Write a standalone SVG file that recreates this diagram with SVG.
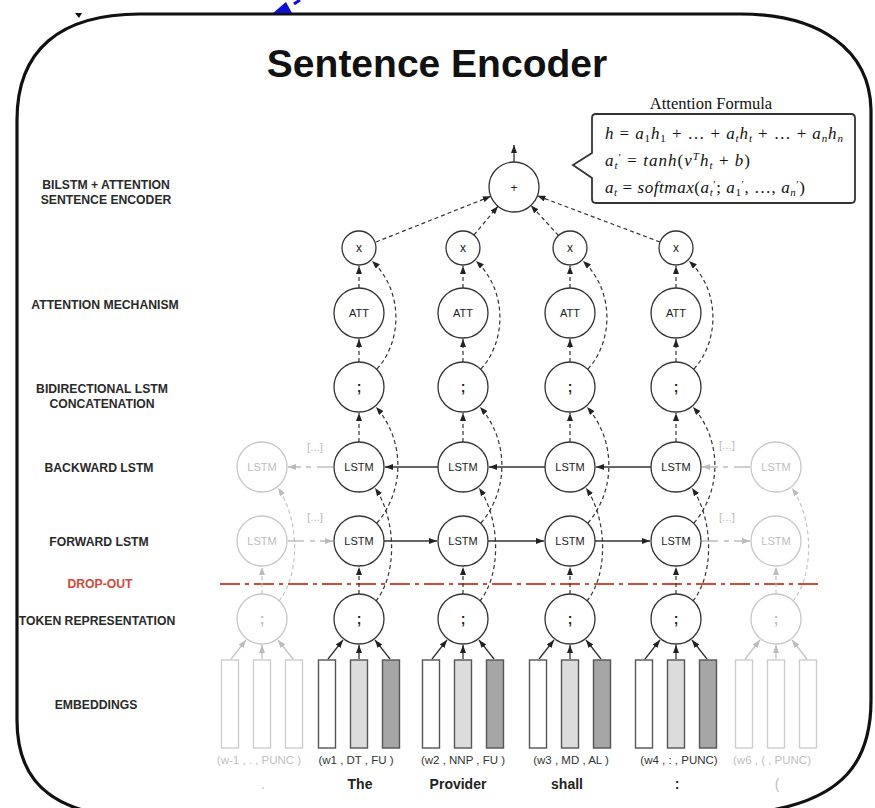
<svg xmlns="http://www.w3.org/2000/svg" width="875" height="808" viewBox="0 0 875 808">
  <defs>
    <style>
      .frame { fill: none; stroke: #111; stroke-width: 3.2; }
      .title { font-family: "Liberation Sans", Arial, sans-serif; font-weight: bold; font-size: 39px; text-anchor: middle; fill: #111; }
      .lbl { font-family: "Liberation Sans", Arial, sans-serif; font-weight: bold; font-size: 12.2px; text-anchor: middle; fill: #2a2a2a; }
      .drop { fill: #d24a3a; }
      .n circle { fill: #fff; stroke: #333; stroke-width: 1.3; }
      .f circle { fill: #fff; stroke: #c8c8c8; stroke-width: 1.3; }
      .n text, .f text { font-family: "Liberation Sans", Arial, sans-serif; font-size: 11px; text-anchor: middle; }
      .n text { fill: #222; }
      .f text { fill: #bdbdbd; }
      .sym { font-size: 14px !important; font-weight: bold; }
      .bar rect { stroke: #555; stroke-width: 1.4; }
      .fbar rect { fill: #fff; stroke: #cdcdcd; stroke-width: 1.4; }
      .w0 { fill: #fff; }
      .w1 { fill: #dcdcdc; }
      .w2 { fill: #a6a6a6; }
      .dsh { fill: none; stroke: #333; stroke-width: 1.2; stroke-dasharray: 4 3; marker-end: url(#ah); }
      .sol { fill: none; stroke: #333; stroke-width: 1.3; marker-end: url(#ah); }
      .gd { fill: none; stroke: #c4c4c4; stroke-width: 1.2; stroke-dasharray: 4 3; marker-end: url(#ahg); }
      .gs { fill: none; stroke: #c4c4c4; stroke-width: 1.3; marker-end: url(#ahg); }
      .gdd { fill: none; stroke: #bdbdbd; stroke-width: 1.3; stroke-dasharray: 16 6 5 5; marker-end: url(#ahg); }
      .dropline { stroke: #d24a3a; stroke-width: 2.2; stroke-dasharray: 20 5 4 5; fill: none; }
      .fm { font-family: "Liberation Serif", "Times New Roman", serif; font-size: 17px; fill: #111; }
      .i { font-style: italic; }
      .sb { font-size: 11px; }
      .hd { font-family: "Liberation Serif", "Times New Roman", serif; font-size: 16.5px; text-anchor: middle; fill: #111; }
      .tup { font-family: "Liberation Sans", Arial, sans-serif; font-size: 11.5px; text-anchor: middle; fill: #333; }
      .tupf { font-family: "Liberation Sans", Arial, sans-serif; font-size: 11.5px; text-anchor: middle; fill: #c0c0c0; }
      .word { font-family: "Liberation Sans", Arial, sans-serif; font-weight: bold; font-size: 14px; text-anchor: middle; fill: #222; }
      .wordf { font-family: "Liberation Sans", Arial, sans-serif; font-size: 14px; text-anchor: middle; fill: #bbb; }
      .etc { font-family: "Liberation Sans", Arial, sans-serif; font-size: 11.5px; text-anchor: middle; fill: #bdbdbd; }
    </style>
    <marker id="ah" viewBox="0 0 8 6" refX="8" refY="3" markerWidth="8" markerHeight="6" markerUnits="userSpaceOnUse" orient="auto">
      <path d="M0,0 L8,3 L0,6 z" fill="#222"/>
    </marker>
    <marker id="ahg" viewBox="0 0 8 6" refX="8" refY="3" markerWidth="8" markerHeight="6" markerUnits="userSpaceOnUse" orient="auto">
      <path d="M0,0 L8,3 L0,6 z" fill="#bbb"/>
    </marker>
  </defs>

  <rect x="0" y="0" width="875" height="808" fill="#fff"/>

  <!-- outer rounded frame (bottom edge runs below the canvas) -->
  <path class="frame" d="M140,14 H740 C820,14 870,50 871,110 V700 C871,760 845,800 760,812 H90 C40,800 17,770 17,720 V120 C17,50 60,14 140,14 Z"/>
  <!-- small marks along the top edge -->
  <path d="M75,13 L82,13 L79,18 z" fill="#111"/>
  <path d="M273,13 L292,13 L286,2 z" fill="#1010d0"/>
  <path d="M294,4 L300,0" stroke="#1010d0" stroke-width="3"/>

  <text class="title" x="437" y="77">Sentence Encoder</text>

  <!-- attention formula callout -->
  <g id="formula">
    <text class="hd" x="711" y="109">Attention Formula</text>
    <path d="M596,114 H851 Q855,114 855,118 V199 Q855,203 851,203 H596 Q592,203 592,199 V178 L573,165 L592,153 V118 Q592,114 596,114 Z" fill="#fff" stroke="#333" stroke-width="1.8"/>
    <text class="fm" x="605" y="139" textLength="238" lengthAdjust="spacing"><tspan class="i">h</tspan> = <tspan class="i">a</tspan><tspan class="sb" dy="3">1</tspan><tspan class="i" dy="-3">h</tspan><tspan class="sb" dy="3">1</tspan><tspan dy="-3"> + … + </tspan><tspan class="i">a</tspan><tspan class="sb i" dy="3">t</tspan><tspan class="i" dy="-3">h</tspan><tspan class="sb i" dy="3">t</tspan><tspan dy="-3"> + … + </tspan><tspan class="i">a</tspan><tspan class="sb i" dy="3">n</tspan><tspan class="i" dy="-3">h</tspan><tspan class="sb i" dy="3">n</tspan></text>
    <text class="fm" x="605" y="166" textLength="145" lengthAdjust="spacing"><tspan class="i">a</tspan><tspan class="sb i" dy="3">t</tspan><tspan class="sb" dy="-8">′</tspan><tspan dy="5"> = </tspan><tspan class="i">tanh</tspan>(<tspan class="i">v</tspan><tspan class="sb i" dy="-6">T</tspan><tspan class="i" dy="6">h</tspan><tspan class="sb i" dy="3">t</tspan><tspan dy="-3"> + </tspan><tspan class="i">b</tspan>)</text>
    <text class="fm" x="605" y="193" textLength="200" lengthAdjust="spacing"><tspan class="i">a</tspan><tspan class="sb i" dy="3">t</tspan><tspan dy="-3"> = </tspan><tspan class="i">softmax</tspan>(<tspan class="i">a</tspan><tspan class="sb i" dy="3">t</tspan><tspan class="sb" dy="-8">′</tspan><tspan dy="5">; </tspan><tspan class="i">a</tspan><tspan class="sb" dy="3">1</tspan><tspan class="sb" dy="-8">′</tspan><tspan dy="5">, …, </tspan><tspan class="i">a</tspan><tspan class="sb i" dy="3">n</tspan><tspan class="sb" dy="-8">′</tspan><tspan dy="5">)</tspan></text>
  </g>

  <!-- layer labels -->
  <g id="labels">
    <text class="lbl" x="106" y="189">BILSTM + ATTENTION</text>
    <text class="lbl" x="106" y="204">SENTENCE ENCODER</text>
    <text class="lbl" x="105" y="309">ATTENTION MECHANISM</text>
    <text class="lbl" x="102" y="393">BIDIRECTIONAL LSTM</text>
    <text class="lbl" x="102" y="408">CONCATENATION</text>
    <text class="lbl" x="99" y="472">BACKWARD LSTM</text>
    <text class="lbl" x="99" y="546">FORWARD LSTM</text>
    <text class="lbl drop" x="100" y="588">DROP-OUT</text>
    <text class="lbl" x="97" y="625">TOKEN REPRESENTATION</text>
    <text class="lbl" x="96" y="709">EMBEDDINGS</text>
  </g>

  <!-- drop-out line -->
  <path class="dropline" d="M220,584 H818"/>

  <!-- connectors -->
  <g id="connectors">
    <!-- output of the sum -->
    <path class="sol" d="M514,162 V145"/>
    <!-- weighted states into the sum -->
    <path class="dsh" d="M376,242 L490.8,196.3"/>
    <path class="dsh" d="M474,235 L498,206.2"/>
    <path class="dsh" d="M558.5,235.5 L530.9,205.4"/>
    <path class="dsh" d="M660,242 L537.4,195.8"/>

    <!-- column 1 -->
    <path class="dsh" d="M359,288 V266"/>
    <path class="dsh" d="M359,362 V339"/>
    <path class="dsh" d="M359,442 V413"/>
    <path class="dsh" d="M359,594 V567"/>
    <path class="dsh" d="M377,369 C403,340 403,290 372,261"/>
    <path class="dsh" d="M377,523 C405,490 405,440 376,407"/>
    <path class="dsh" d="M376,601 C397,575 397,520 375,488"/>
    <path class="sol" d="M328,659 L343,640"/>
    <path class="sol" d="M359,659 V645"/>
    <path class="sol" d="M390,659 L375,640"/>

    <!-- column 2 -->
    <path class="dsh" d="M463,288 V266"/>
    <path class="dsh" d="M463,362 V339"/>
    <path class="dsh" d="M463,442 V413"/>
    <path class="dsh" d="M463,594 V567"/>
    <path class="dsh" d="M481,369 C507,340 507,290 476,261"/>
    <path class="dsh" d="M481,523 C509,490 509,440 480,407"/>
    <path class="dsh" d="M480,601 C501,575 501,520 479,488"/>
    <path class="sol" d="M432,659 L447,640"/>
    <path class="sol" d="M463,659 V645"/>
    <path class="sol" d="M494,659 L479,640"/>

    <!-- column 3 -->
    <path class="dsh" d="M570,288 V266"/>
    <path class="dsh" d="M570,362 V339"/>
    <path class="dsh" d="M570,442 V413"/>
    <path class="dsh" d="M570,594 V567"/>
    <path class="dsh" d="M588,369 C614,340 614,290 583,261"/>
    <path class="dsh" d="M588,523 C616,490 616,440 587,407"/>
    <path class="dsh" d="M587,601 C608,575 608,520 586,488"/>
    <path class="sol" d="M539,659 L554,640"/>
    <path class="sol" d="M570,659 V645"/>
    <path class="sol" d="M601,659 L586,640"/>

    <!-- column 4 -->
    <path class="dsh" d="M676,288 V266"/>
    <path class="dsh" d="M676,362 V339"/>
    <path class="dsh" d="M676,442 V413"/>
    <path class="dsh" d="M676,594 V567"/>
    <path class="dsh" d="M694,369 C720,340 720,290 689,261"/>
    <path class="dsh" d="M694,523 C722,490 722,440 693,407"/>
    <path class="dsh" d="M693,601 C714,575 714,520 692,488"/>
    <path class="sol" d="M645,659 L660,640"/>
    <path class="sol" d="M676,659 V645"/>
    <path class="sol" d="M707,659 L692,640"/>

    <!-- faded left column -->
    <path class="gd" d="M262,594 V567"/>
    <path class="gd" d="M279,601 C300,575 300,520 278,488"/>
    <path class="gs" d="M231,659 L246,640"/>
    <path class="gs" d="M262,659 V645"/>
    <path class="gs" d="M293,659 L278,640"/>

    <!-- faded right column -->
    <path class="gd" d="M776,594 V567"/>
    <path class="gd" d="M793,601 C814,575 814,520 792,488"/>
    <path class="gs" d="M745,659 L760,640"/>
    <path class="gs" d="M776,659 V645"/>
    <path class="gs" d="M807,659 L792,640"/>

    <!-- forward chain -->
    <path class="gdd" d="M288,541 H333"/>
    <path class="sol" d="M384,541 H437"/>
    <path class="sol" d="M488,541 H544"/>
    <path class="sol" d="M595,541 H650"/>
    <path class="gdd" d="M702,541 H750"/>

    <!-- backward chain -->
    <path class="gdd" d="M750,467 H702"/>
    <path class="sol" d="M651,467 H596"/>
    <path class="sol" d="M545,467 H489"/>
    <path class="sol" d="M438,467 H385"/>
    <path class="gdd" d="M333,467 H288"/>

    <text class="etc" x="315" y="451">[...]</text>
    <text class="etc" x="315" y="521">[...]</text>
    <text class="etc" x="727" y="449">[...]</text>
    <text class="etc" x="727" y="521">[...]</text>
  </g>

  <!-- sentence vector -->
  <g id="sum" class="n"><circle cx="514" cy="187" r="25"/><text x="514" y="191.5" style="font-size:12px">+</text></g>

  <!-- column 1 : The -->
  <g id="mul1" class="n"><circle cx="359" cy="248" r="17"/><text x="359" y="252" style="font-size:12px">x</text></g>
  <g id="att1" class="n"><circle cx="359" cy="313" r="25"/><text x="359" y="317">ATT</text></g>
  <g id="cat1" class="n"><circle cx="359" cy="387" r="25"/><text class="sym" x="359" y="392">;</text></g>
  <g id="bwd1" class="n"><circle cx="359" cy="467" r="25"/><text x="359" y="471">LSTM</text></g>
  <g id="fwd1" class="n"><circle cx="359" cy="541" r="25"/><text x="359" y="545">LSTM</text></g>
  <g id="tok1" class="n"><circle cx="359" cy="619" r="25"/><text class="sym" x="359" y="624">;</text></g>
  <g id="emb1" class="bar"><rect class="w0" x="318.5" y="660" width="17" height="88"/><rect class="w1" x="350.5" y="660" width="17" height="88"/><rect class="w2" x="382.5" y="660" width="17" height="88"/></g>

  <!-- column 2 : Provider -->
  <g id="mul2" class="n"><circle cx="463" cy="248" r="17"/><text x="463" y="252" style="font-size:12px">x</text></g>
  <g id="att2" class="n"><circle cx="463" cy="313" r="25"/><text x="463" y="317">ATT</text></g>
  <g id="cat2" class="n"><circle cx="463" cy="387" r="25"/><text class="sym" x="463" y="392">;</text></g>
  <g id="bwd2" class="n"><circle cx="463" cy="467" r="25"/><text x="463" y="471">LSTM</text></g>
  <g id="fwd2" class="n"><circle cx="463" cy="541" r="25"/><text x="463" y="545">LSTM</text></g>
  <g id="tok2" class="n"><circle cx="463" cy="619" r="25"/><text class="sym" x="463" y="624">;</text></g>
  <g id="emb2" class="bar"><rect class="w0" x="422.5" y="660" width="17" height="88"/><rect class="w1" x="454.5" y="660" width="17" height="88"/><rect class="w2" x="486.5" y="660" width="17" height="88"/></g>

  <!-- column 3 : shall -->
  <g id="mul3" class="n"><circle cx="570" cy="248" r="17"/><text x="570" y="252" style="font-size:12px">x</text></g>
  <g id="att3" class="n"><circle cx="570" cy="313" r="25"/><text x="570" y="317">ATT</text></g>
  <g id="cat3" class="n"><circle cx="570" cy="387" r="25"/><text class="sym" x="570" y="392">;</text></g>
  <g id="bwd3" class="n"><circle cx="570" cy="467" r="25"/><text x="570" y="471">LSTM</text></g>
  <g id="fwd3" class="n"><circle cx="570" cy="541" r="25"/><text x="570" y="545">LSTM</text></g>
  <g id="tok3" class="n"><circle cx="570" cy="619" r="25"/><text class="sym" x="570" y="624">;</text></g>
  <g id="emb3" class="bar"><rect class="w0" x="529.5" y="660" width="17" height="88"/><rect class="w1" x="561.5" y="660" width="17" height="88"/><rect class="w2" x="593.5" y="660" width="17" height="88"/></g>

  <!-- column 4 : colon -->
  <g id="mul4" class="n"><circle cx="676" cy="248" r="17"/><text x="676" y="252" style="font-size:12px">x</text></g>
  <g id="att4" class="n"><circle cx="676" cy="313" r="25"/><text x="676" y="317">ATT</text></g>
  <g id="cat4" class="n"><circle cx="676" cy="387" r="25"/><text class="sym" x="676" y="392">;</text></g>
  <g id="bwd4" class="n"><circle cx="676" cy="467" r="25"/><text x="676" y="471">LSTM</text></g>
  <g id="fwd4" class="n"><circle cx="676" cy="541" r="25"/><text x="676" y="545">LSTM</text></g>
  <g id="tok4" class="n"><circle cx="676" cy="619" r="25"/><text class="sym" x="676" y="624">;</text></g>
  <g id="emb4" class="bar"><rect class="w0" x="635.5" y="660" width="17" height="88"/><rect class="w1" x="667.5" y="660" width="17" height="88"/><rect class="w2" x="699.5" y="660" width="17" height="88"/></g>

  <!-- faded neighbours -->
  <g id="bwd0" class="f"><circle cx="262" cy="467" r="25"/><text x="262" y="471">LSTM</text></g>
  <g id="fwd0" class="f"><circle cx="262" cy="541" r="25"/><text x="262" y="545">LSTM</text></g>
  <g id="tok0" class="f"><circle cx="262" cy="619" r="25"/><text class="sym" x="262" y="624">;</text></g>
  <g id="emb0" class="fbar"><rect x="221.5" y="660" width="17" height="88"/><rect x="253.5" y="660" width="17" height="88"/><rect x="285.5" y="660" width="17" height="88"/></g>

  <g id="bwd6" class="f"><circle cx="776" cy="467" r="25"/><text x="776" y="471">LSTM</text></g>
  <g id="fwd6" class="f"><circle cx="776" cy="541" r="25"/><text x="776" y="545">LSTM</text></g>
  <g id="tok6" class="f"><circle cx="776" cy="619" r="25"/><text class="sym" x="776" y="624">;</text></g>
  <g id="emb6" class="fbar"><rect x="735.5" y="660" width="17" height="88"/><rect x="767.5" y="660" width="17" height="88"/><rect x="799.5" y="660" width="17" height="88"/></g>

  <!-- token tuples and words -->
  <g id="tokens">
    <text class="tupf" x="259" y="764">(w-1 , . , PUNC )</text>
    <text class="tup" x="356" y="764">(w1 , DT , FU )</text>
    <text class="tup" x="463" y="764">(w2 , NNP , FU )</text>
    <text class="tup" x="571" y="764">(w3 , MD , AL )</text>
    <text class="tup" x="679" y="764">(w4 , : , PUNC)</text>
    <text class="tupf" x="772" y="764">(w6 , ( , PUNC)</text>
    <text class="wordf" x="263" y="789">.</text>
    <text class="word" x="360" y="789">The</text>
    <text class="word" x="458" y="789">Provider</text>
    <text class="word" x="567" y="789">shall</text>
    <text class="word" x="677" y="789">:</text>
    <text class="wordf" x="777" y="789">(</text>
  </g>
</svg>
